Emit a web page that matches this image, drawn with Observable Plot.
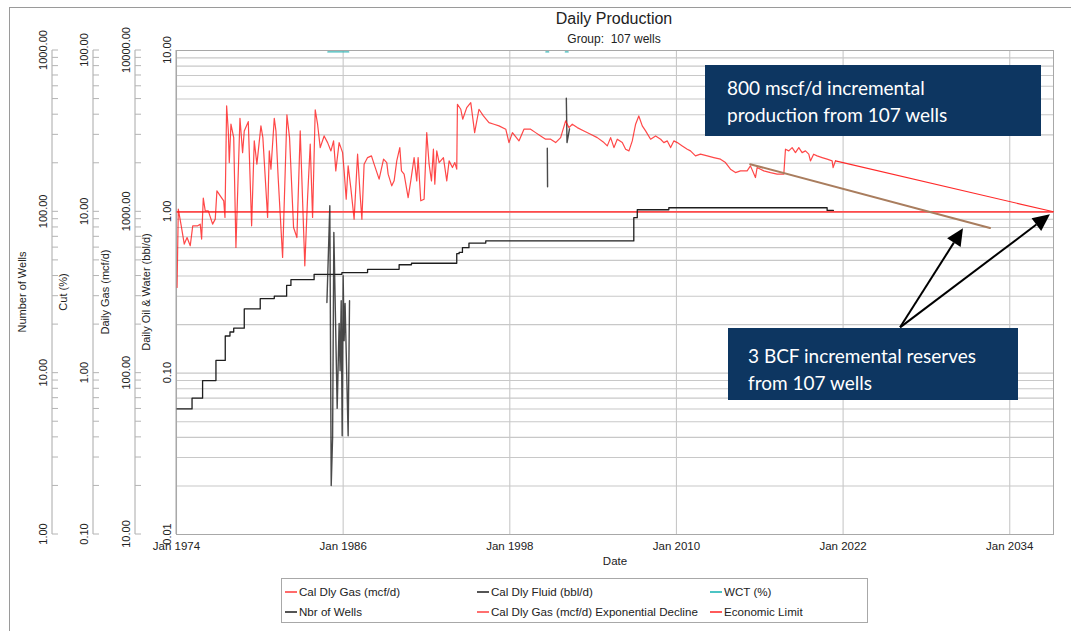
<!DOCTYPE html>
<html>
<head>
<meta charset="utf-8">
<script src="https://cdn.jsdelivr.net/npm/d3@7"></script>
<script src="https://cdn.jsdelivr.net/npm/@observablehq/plot@0.6"></script>
<style>
  body { margin: 0; background: #fff; }
  #wrap { position: relative; width: 1071px; height: 631px; overflow: hidden; background: #fff; font-family: "Liberation Sans", Arial, sans-serif; color: #222; }
  #chart { position: absolute; left: 0; top: 0; }
  .frameline { position: absolute; left: 9px; top: 7px; width: 1062px; height: 624px; border-top: 1px solid #9a9a9a; border-left: 1px solid #9a9a9a; }
  .title { position: absolute; left: 414px; width: 400px; text-align: center; }
  .box { position: absolute; background: #0d3661; color: #fff; font-family: Lato, "Open Sans", sans-serif; font-size: 19px; line-height: 27px; }
  #legend { position: absolute; left: 281px; top: 578px; width: 585px; height: 43px; border: 1px solid #a8a8a8; font-size: 11.6px; }
  .li { position: absolute; white-space: nowrap; line-height: 14px; }
  .li span.sw { display: inline-block; width: 12px; height: 2px; vertical-align: middle; margin-right: 2px; position: relative; top: -1px; }
</style>
</head>
<body>
<div id="wrap">
  <div class="frameline"></div>
  <div class="title" style="top:10px;font-size:16px;">Daily Production</div>
  <div class="title" style="top:32px;font-size:12px;">Group:&nbsp; 107 wells</div>
  <div id="chart"></div>
  <div class="box" style="left:705px;top:65px;width:314px;height:62px;padding:9px 0 0 22px;">800 mscf/d incremental<br>production from 107 wells</div>
  <div class="box" style="left:728px;top:328px;width:270px;height:58px;padding:14px 0 0 20px;">3 BCF incremental reserves<br>from 107 wells</div>
  <div id="legend"></div>
</div>
<script>
// ---------------- DATA ----------------
// Cal Dly Gas (mcf/d) – decimal year / value
const gasYears = [1974.04,1974.13,1974.32,1974.56,1974.76,1974.99,1975.17,1975.53,1975.71,1975.81,1975.93,1976.07,1976.29,1976.60,1976.79,1976.91,1977.15,1977.40,1977.49,1977.61,1977.73,1977.80,1977.92,1978.12,1978.28,1978.57,1978.76,1978.88,1979.17,1979.41,1979.60,1979.79,1980.08,1980.22,1980.56,1980.68,1980.80,1981.04,1981.16,1981.32,1981.64,1981.95,1982.14,1982.43,1982.67,1982.91,1983.24,1983.44,1983.63,1983.80,1983.99,1984.16,1984.35,1984.63,1984.88,1985.12,1985.31,1985.47,1985.71,1985.96,1986.07,1986.22,1986.36,1986.55,1986.79,1987.04,1987.22,1987.35,1987.51,1987.76,1988.04,1988.23,1988.59,1988.91,1989.14,1989.24,1989.50,1989.67,1989.86,1990.08,1990.20,1990.39,1990.68,1990.87,1991.11,1991.30,1991.40,1991.59,1991.83,1992.02,1992.19,1992.36,1992.50,1992.60,1992.74,1992.91,1993.22,1993.46,1993.63,1993.87,1994.04,1994.18,1994.23,1994.47,1994.61,1994.90,1995.19,1995.47,1995.78,1996.10,1996.50,1996.86,1997.22,1997.71,1997.94,1998.19,1998.66,1999.02,1999.50,1999.86,2000.22,2000.58,2000.94,2001.30,2001.66,2002.02,2002.26,2002.50,2002.86,2003.34,2003.82,2004.30,2004.78,2005.02,2005.26,2005.50,2005.74,2006.10,2006.34,2006.58,2006.82,2007.06,2007.29,2007.54,2007.78,2008.14,2008.50,2008.86,2009.09,2009.34,2009.58,2009.81,2010.06,2010.42,2010.78,2011.01,2011.37,2011.73,2012.22,2012.69,2013.17,2013.53,2013.89,2014.25,2014.61,2015.09,2015.33,2015.69,2015.81,2016.29,2016.77,2017.25,2017.73,2017.85,2018.09,2018.33,2018.57,2018.81,2019.05,2019.29,2019.53,2019.65,2019.88,2020.13,2020.49,2020.85,2021.21,2021.28,2021.45];
const gasValues = [340,1039,839,631,693,616,819,819,839,678,1216,1014,1014,839,901,1349,1256,1170,922,4532,3173,2020,3492,2884,601,3803,2329,3173,3624,819,2752,1974,3409,2884,922,2386,1838,3803,3173,1631,521,3987,2884,799,693,3173,463,1226,2626,922,4281,3492,2501,2954,2686,2386,2752,1795,2686,2329,1795,1198,1927,1414,901,2277,1287,901,1974,2169,2222,1974,1594,2120,2020,1712,1449,1556,2069,2501,1795,1712,1226,1556,2169,1556,2169,1170,1198,3097,1974,1556,2445,1484,2386,2020,2169,1556,2069,1881,2020,1838,4644,4324,3750,4424,4751,3097,4324,3930,3572,3492,3409,3252,2686,3097,2752,3252,3252,3097,2954,2819,2819,2686,2884,3660,3327,3492,3327,3173,3027,2884,2686,2563,2884,2501,2819,2686,2445,2386,2752,3492,3930,3409,3173,2819,2954,2819,2686,2752,2501,2752,2686,2563,2445,2386,2222,2277,2222,2169,2120,2020,1838,1751,1795,1795,1927,1631,1881,1795,1751,1712,1712,2445,2386,2501,2329,2501,2329,2386,2277,2069,2277,2222,2169,2120,2069,1881,2069];

// Cal Dly Gas (mcf/d) Exponential Decline
const declineYears = [2021.45, 2037.15];
const declineValues = [2069, 1000];
// decline before the new wells (brown line)
const baseDeclineYears = [2015.31, 2032.58];
const baseDeclineValues = [1974, 793];
// Economic Limit (mcf/d)
const economicLimit = 1000;

// Nbr of Wells (step)
const wellYears = [1974.0,1975.12,1975.88,1976.84,1977.51,1977.85,1978.12,1978.88,1980.03,1981.04,1981.93,1982.24,1983.91,1985.91,1987.76,1990.03,1990.92,1994.18,1994.35,1994.59,1995.06,1996.27,2006.93,2007.18,2009.45,2020.85,2021.3];
const wellCounts = [6,7,9,12,17,18,19,25,29,30,35,38,41,42,44,47,48,55,56,60,64,66,92,103,106,102,102];

// Cal Dly Fluid (bbl/d); NaN = gap
const fluidYears = [1984.83,1985.04,1985.14,1985.24,1985.33,1985.57,1985.71,1985.78,1985.86,1985.93,1986.00,1986.07,1986.14,1986.36,1986.46,1990,2000.70,2000.72,2001,2002.07,2002.12,2002.30];
const fluidValues = [0.274,1.09,0.0201,0.0399,0.744,0.0605,0.203,0.1035,0.281,0.0409,0.402,0.159,0.27,0.0409,0.281,NaN,2.48,1.43,NaN,5.06,2.69,3.27];

// WCT (%); NaN = gap
const wctYears = [1984.9,1985.6,1986.4,1990,2000.6,2000.8,2001,2002.0,2002.2];
const wctValues = [98,98,98,NaN,98,98,NaN,98,98];

// Arrow annotations (year, mcf/d)
const arrowFromYear = [2026.14, 2026.14];
const arrowFromGas = [191, 191];
const arrowToYear = [2030.67, 2036.93];
const arrowToGas = [785, 958];

// axes
const xTickYears = [1974, 1986, 1998, 2010, 2022, 2034];
const yMajor = [0.01, 0.1, 1, 10];
const extraAxes = [
  {title: "Number of Wells", factor: 100},
  {title: "Cut (%)", factor: 10},
  {title: "Daily Gas (mcf/d)", factor: 1000},
  {title: "Daily Oil & Water (bbl/d)", factor: 1}
];

// ---------------- HELPERS ----------------
const FONT = '"Liberation Sans", Arial, sans-serif';
function toDate(y) {
  const yr = Math.floor(y);
  const a = Date.UTC(yr, 0, 1), b = Date.UTC(yr + 1, 0, 1);
  return new Date(a + (y - yr) * (b - a));
}
const yMinor = [];
for (let e = -2; e <= 0; e++) for (let m = 1; m <= 9; m++) yMinor.push(+(m * Math.pow(10, e)).toPrecision(3));
yMinor.push(10);

const gas = gasYears.map((y, i) => ({date: toDate(y), v: gasValues[i] / 1000}));
const decline = declineYears.map((y, i) => ({date: toDate(y), v: declineValues[i] / 1000}));
const baseDecline = baseDeclineYears.map((y, i) => ({date: toDate(y), v: baseDeclineValues[i] / 1000}));
const wells = wellYears.map((y, i) => ({date: toDate(y), v: wellCounts[i] / 100}));
const fluid = fluidYears.map((y, i) => ({date: toDate(y), v: fluidValues[i]}));
const wct = wctYears.map((y, i) => ({date: toDate(y), v: wctValues[i] / 10}));
const xTicks = xTickYears.map(y => toDate(y));
const xDomain = [toDate(1974), toDate(2037.15)];

const axisOffsets = [-124, -83, -41, 0];

function leftAxes(index, scales, values, dims) {
  const y = scales.y;
  const x0 = dims.marginLeft;
  const top = dims.marginTop, bottom = dims.height - dims.marginBottom;
  const g = d3.create("svg:g").attr("font-family", FONT).attr("font-size", 11).attr("fill", "#222");
  extraAxes.forEach((a, k) => {
    const ax = x0 + axisOffsets[k];
    g.append("line").attr("x1", ax).attr("x2", ax).attr("y1", top).attr("y2", bottom).attr("stroke", "#a8a8a8");
    if (axisOffsets[k] !== 0) {
      for (const t of yMinor) {
        g.append("line").attr("x1", ax).attr("x2", ax + 6).attr("y1", y(t)).attr("y2", y(t)).attr("stroke", "#b4b4b4");
      }
    }
    for (const t of yMajor) {
      g.append("text").attr("transform", `translate(${ax - 8.5},${y(t)}) rotate(-90)`)
        .attr("text-anchor", "middle").attr("dy", "0.35em").text((t * a.factor).toFixed(2));
    }
    g.append("text").attr("transform", `translate(${ax - 30},${(top + bottom) / 2}) rotate(-90)`)
      .attr("text-anchor", "middle").attr("dy", "0.35em").text(a.title);
  });
  return g.node();
}

function arrows(index, scales) {
  const g = d3.create("svg:g");
  arrowFromYear.forEach((fy, i) => {
    const x1 = scales.x(toDate(fy)), y1 = scales.y(arrowFromGas[i] / 1000);
    const x2 = scales.x(toDate(arrowToYear[i])), y2 = scales.y(arrowToGas[i] / 1000);
    const ang = Math.atan2(y2 - y1, x2 - x1);
    const L = 17, W = 8;
    const c = Math.cos(ang), s = Math.sin(ang);
    const bx = x2 - L * c, by = y2 - L * s;
    g.append("line").attr("x1", x1).attr("y1", y1).attr("x2", bx).attr("y2", by).attr("stroke", "#000").attr("stroke-width", 2);
    g.append("polygon").attr("points", `${x2},${y2} ${bx - W * s},${by + W * c} ${bx + W * s},${by - W * c}`).attr("fill", "#000");
  });
  return g.node();
}

const plot = Plot.plot({
  width: 1071,
  height: 631,
  marginLeft: 176,
  marginRight: 18,
  marginTop: 50,
  marginBottom: 97,
  style: {fontFamily: FONT, fontSize: "11px", background: "transparent", overflow: "visible"},
  x: {type: "utc", domain: xDomain, axis: null},
  y: {type: "log", domain: [0.01, 10], axis: null},
  marks: [
    Plot.ruleY(yMinor, {stroke: "#c8c8c8", strokeWidth: 1.1}),
    Plot.ruleX(xTicks, {stroke: "#c8c8c8", strokeWidth: 1.1}),
    Plot.frame({stroke: "#a8a8a8"}),
    Plot.ruleY([economicLimit / 1000], {stroke: "#ff4a4a", strokeWidth: 1.6}),
    Plot.line(wells, {x: "date", y: "v", curve: "step-after", stroke: "#1e1e1e", strokeWidth: 1.3}),
    Plot.line(fluid, {x: "date", y: "v", stroke: "#2a2a2a", strokeWidth: 1.4, strokeOpacity: 0.85}),
    Plot.line(wct, {x: "date", y: "v", stroke: "#3cb8b8", strokeWidth: 1.3}),
    Plot.line(gas, {x: "date", y: "v", stroke: "#ff1a1a", strokeOpacity: 0.8, strokeWidth: 1.2}),
    Plot.line(decline, {x: "date", y: "v", stroke: "#ff2a2a", strokeWidth: 1.1}),
    Plot.line(baseDecline, {x: "date", y: "v", stroke: "#a97d5e", strokeWidth: 2}),
    Plot.text(xTicks, {x: d => d, frameAnchor: "bottom", dy: 15, text: d => "Jan " + d.getUTCFullYear(), fontSize: 11.5, fill: "#222"}),
    Plot.text(["Date"], {frameAnchor: "bottom", dy: 30, text: d => d, fontSize: 11.5, fill: "#222"}),
    leftAxes,
    arrows
  ]
});
document.getElementById("chart").appendChild(plot);

// Legend
const legendItems = [
  {label: "Cal Dly Gas (mcf/d)", color: "#ff6b6b", left: 3, top: 6},
  {label: "Cal Dly Fluid (bbl/d)", color: "#555555", left: 195, top: 6},
  {label: "WCT (%)", color: "#4cc4c4", left: 428, top: 6},
  {label: "Nbr of Wells", color: "#555555", left: 3, top: 26},
  {label: "Cal Dly Gas (mcf/d) Exponential Decline", color: "#ff7070", left: 195, top: 26},
  {label: "Economic Limit", color: "#ff5a5a", left: 428, top: 26}
];
const leg = document.getElementById("legend");
for (const it of legendItems) {
  const d = document.createElement("div");
  d.className = "li";
  d.style.left = it.left + "px";
  d.style.top = it.top + "px";
  d.innerHTML = `<span class="sw" style="background-color:${it.color}"></span>${it.label}`;
  leg.appendChild(d);
}
</script>
</body>
</html>
